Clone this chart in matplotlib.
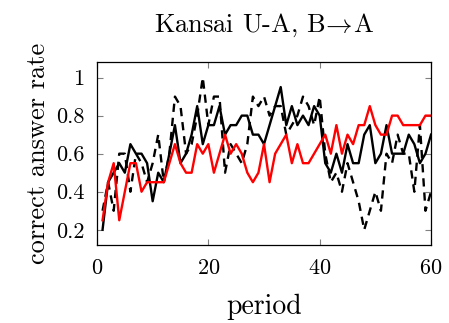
import matplotlib
matplotlib.use("Agg")
import matplotlib.pyplot as plt

plt.rcParams['font.family'] = 'serif'
plt.rcParams['font.serif'] = ['cmr10']
plt.rcParams['mathtext.fontset'] = 'cm'
plt.rcParams['axes.formatter.use_mathtext'] = True

period = list(range(1, 61))

# red line
red = [0.25, 0.45, 0.55, 0.25, 0.4, 0.55, 0.55, 0.4, 0.45, 0.45,
       0.45, 0.45, 0.55, 0.65, 0.55, 0.5, 0.5, 0.65, 0.6, 0.65,
       0.5, 0.6, 0.7, 0.6, 0.65, 0.6, 0.5, 0.45, 0.5, 0.65,
       0.45, 0.6, 0.65, 0.7, 0.55, 0.65, 0.55, 0.55, 0.6, 0.65,
       0.7, 0.6, 0.75, 0.6, 0.7, 0.65, 0.75, 0.75, 0.85, 0.75,
       0.7, 0.7, 0.8, 0.8, 0.75, 0.75, 0.75, 0.75, 0.8, 0.8]

# black solid
solid = [0.2, 0.45, 0.5, 0.55, 0.5, 0.65, 0.6, 0.6, 0.55, 0.35,
         0.5, 0.45, 0.6, 0.75, 0.55, 0.6, 0.7, 0.85, 0.65, 0.75,
         0.75, 0.85, 0.7, 0.75, 0.75, 0.8, 0.8, 0.7, 0.7, 0.65,
         0.75, 0.85, 0.95, 0.75, 0.85, 0.75, 0.8, 0.75, 0.85, 0.8,
         0.55, 0.5, 0.6, 0.5, 0.65, 0.55, 0.55, 0.7, 0.75, 0.55,
         0.6, 0.75, 0.6, 0.6, 0.6, 0.7, 0.65, 0.55, 0.6, 0.7]

# black dashed
dashed = [0.3, 0.45, 0.3, 0.6, 0.6, 0.4, 0.6, 0.55, 0.45, 0.55,
          0.7, 0.45, 0.6, 0.9, 0.85, 0.6, 0.65, 0.8, 1.0, 0.75,
          0.9, 0.9, 0.5, 0.65, 0.6, 0.55, 0.65, 0.9, 0.85, 0.9,
          0.8, 0.85, 0.85, 0.7, 0.75, 0.8, 0.9, 0.85, 0.75, 0.9,
          0.6, 0.45, 0.5, 0.4, 0.55, 0.45, 0.35, 0.2, 0.3, 0.4,
          0.3, 0.6, 0.55, 0.7, 0.6, 0.6, 0.4, 0.75, 0.3, 0.4]

fig = plt.figure(figsize=(4.49, 3.23), dpi=100)
ax = fig.add_axes([0.216, 0.2415, 0.744, 0.5655])

ax.plot(period, dashed, color='black', lw=1.7, linestyle=(0, (3.5, 2.5)))
ax.plot(period, solid, color='black', lw=1.7)
ax.plot(period, red, color='#ff0000', lw=1.7)

ax.set_xlim(0, 60)
ax.set_ylim(0.12, 1.08)
ax.set_xticks([0, 20, 40, 60])
ax.set_yticks([0.2, 0.4, 0.6, 0.8, 1.0])
ax.set_yticklabels(['0.2', '0.4', '0.6', '0.8', '1'])
ax.tick_params(direction='in', top=True, right=True, length=4, width=0.8,
               color='#808080', labelsize=16)
ax.tick_params(axis='x', pad=10)
ax.tick_params(axis='y', pad=9)
for s in ax.spines.values():
    s.set_linewidth(0.9)

ax.set_xlabel('period', fontsize=20, labelpad=11)
ax.set_ylabel('correct answer rate', fontsize=19, labelpad=4)
ax.set_title(r'Kansai U-A, B$\!\rightarrow\!$A', fontsize=19, pad=22)

fig.savefig('out.png', dpi=100)
